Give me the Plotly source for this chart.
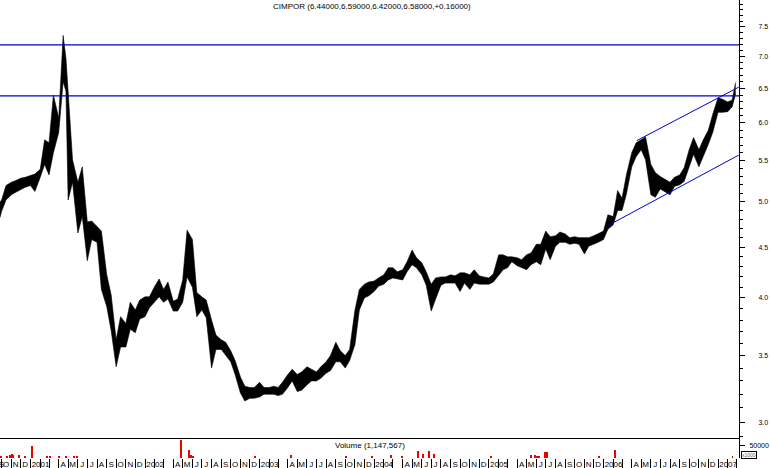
import math
import plotly.graph_objects as go

# ---------------- data ----------------
title_text = "CIMPOR (6.44000,6.59000,6.42000,6.58000,+0.16000)"
volume_text = "Volume (1,147,567)"

def semi(year):
    return [f"{year}-{m:02d}-{d:02d}" for m in range(1, 13) for d in (1, 15)]

dates = (["2000-09-26", "2000-10-01", "2000-10-15", "2000-11-01", "2000-11-15", "2000-12-01", "2000-12-15"]
         + ["2001-01-01", "2001-01-15", "2001-02-01", "2001-02-15", "2001-03-01", "2001-03-15",
            "2001-04-01", "2001-04-15", "2001-04-24", "2001-05-01", "2001-05-15", "2001-06-01", "2001-06-15",
            "2001-07-01", "2001-07-15", "2001-08-01", "2001-08-15", "2001-09-01", "2001-09-15",
            "2001-10-01", "2001-10-15", "2001-11-01", "2001-11-15", "2001-12-01", "2001-12-15"]
         + semi(2002) + semi(2003) + semi(2004) + semi(2005) + semi(2006)
         + ["2007-01-01", "2007-01-15", "2007-02-01", "2007-02-15", "2007-02-26"])

high = [5.00, 5.02, 5.19, 5.23, 5.25, 5.28, 5.29,
        # 2001
        5.31, 5.33, 5.39, 5.77, 5.73, 6.40, 6.07, 7.35, 6.97, 6.45, 5.51, 5.23, 5.42,
        4.77, 4.78, 4.72, 4.67, 4.22, 4.03, 3.63, 3.83, 3.77, 3.96, 3.89, 3.98,
        # 2002
        4.01, 4.01, 4.11, 4.18, 4.08, 4.15, 3.97, 3.99, 4.17, 4.68, 4.58, 4.05,
        4.01, 3.98, 3.80, 3.67, 3.63, 3.61, 3.54, 3.46, 3.33, 3.26, 3.25, 3.25,
        # 2003
        3.29, 3.25, 3.25, 3.26, 3.25, 3.29, 3.35, 3.39, 3.35, 3.37, 3.41, 3.39,
        3.37, 3.41, 3.45, 3.50, 3.61, 3.54, 3.50, 3.55, 3.89, 4.08, 4.13, 4.15,
        # 2004
        4.16, 4.19, 4.22, 4.29, 4.29, 4.25, 4.27, 4.35, 4.47, 4.39, 4.34, 4.25,
        4.13, 4.19, 4.20, 4.20, 4.22, 4.21, 4.24, 4.24, 4.22, 4.27, 4.21, 4.20,
        # 2005
        4.19, 4.23, 4.42, 4.42, 4.40, 4.40, 4.39, 4.37, 4.42, 4.44, 4.53, 4.53,
        4.67, 4.61, 4.62, 4.66, 4.64, 4.60, 4.61, 4.60, 4.60, 4.60, 4.62, 4.64,
        # 2006
        4.67, 4.85, 4.83, 5.13, 5.04, 5.32, 5.60, 5.73, 5.77, 5.81, 5.45, 5.35,
        5.30, 5.27, 5.23, 5.29, 5.32, 5.41, 5.64, 5.80, 5.64, 5.77, 5.90, 6.12,
        # 2007
        6.36, 6.34, 6.30, 6.33, 6.59]

low = [4.82, 4.89, 5.02, 5.08, 5.11, 5.14, 5.17,
       # 2001
       5.19, 5.12, 5.29, 5.45, 5.32, 5.60, 5.87, 6.60, 6.46, 5.02, 5.23, 4.65, 4.83,
       4.36, 4.58, 4.55, 4.08, 3.92, 3.71, 3.41, 3.57, 3.57, 3.72, 3.69, 3.81,
       # 2002
       3.83, 3.91, 3.97, 4.01, 3.96, 3.99, 3.88, 3.88, 3.96, 4.20, 4.10, 3.83,
       3.89, 3.82, 3.40, 3.55, 3.55, 3.50, 3.45, 3.35, 3.21, 3.15, 3.17, 3.17,
       # 2003
       3.18, 3.20, 3.20, 3.20, 3.19, 3.20, 3.25, 3.30, 3.22, 3.23, 3.27, 3.30,
       3.30, 3.32, 3.36, 3.38, 3.45, 3.45, 3.40, 3.46, 3.59, 3.89, 4.00, 4.02,
       # 2004
       4.06, 4.11, 4.13, 4.17, 4.19, 4.18, 4.17, 4.25, 4.32, 4.29, 4.22, 4.12,
       3.88, 3.99, 4.12, 4.14, 4.14, 4.14, 4.06, 4.14, 4.08, 4.14, 4.13, 4.13,
       # 2005
       4.13, 4.15, 4.22, 4.27, 4.29, 4.35, 4.31, 4.29, 4.27, 4.32, 4.35, 4.32,
       4.48, 4.37, 4.51, 4.55, 4.55, 4.53, 4.54, 4.53, 4.43, 4.51, 4.53, 4.55,
       # 2006
       4.58, 4.69, 4.74, 4.90, 4.90, 5.09, 5.42, 5.55, 5.64, 5.51, 5.08, 5.05,
       5.15, 5.12, 5.08, 5.18, 5.20, 5.24, 5.41, 5.58, 5.42, 5.55, 5.71, 5.87,
       # 2007
       6.15, 6.15, 6.16, 6.23, 6.42]

vol_dates = ["2000-09-29", "2000-10-18", "2000-10-28", "2000-11-03", "2000-11-06", "2000-11-24",
             "2000-12-14", "2001-01-05", "2001-02-23", "2001-03-05", "2001-04-02", "2001-04-24",
             "2001-05-21", "2001-05-29", "2002-04-26", "2002-05-21", "2002-05-27", "2002-06-03",
             "2002-12-17", "2003-04-11", "2003-10-03", "2003-12-24", "2004-02-24", "2004-03-30",
             "2004-05-20", "2004-06-04", "2004-06-24", "2004-07-09", "2005-01-07", "2005-05-16",
             "2005-05-27", "2005-06-03", "2005-06-09", "2005-06-29", "2005-07-05", "2005-12-19",
             "2006-02-06", "2007-02-16"]
vol_values = [3200, 6000, 8800, 15000, 8800, 11000,
              3000, 49000, 3000, 3000, 3000, 5000,
              3000, 3000, 71000, 33000, 8800, 3000,
              3000, 11000, 3000, 3000, 8800, 3000,
              25000, 13000, 25000, 13000, 3000, 11000,
              8800, 6000, 3000, 22000, 22000, 5000,
              33000, 5000]

hline_levels = [7.19, 6.39]
lower_channel_dates = ["2006-01-15", "2007-03-08"]
lower_channel_values = [4.73, 5.57]
upper_channel_dates = ["2006-04-17", "2007-03-08"]
upper_channel_values = [5.76, 6.52]

price_tick_values = [3.0, 3.5, 4.0, 4.5, 5.0, 5.5, 6.0, 6.5, 7.0, 7.5]
price_tick_labels = ["3.0", "3.5", "4.0", "4.5", "5.0", "5.5", "6.0", "6.5", "7.0", "7.5"]
month_letters = ["J", "F", "M", "A", "M", "J", "J", "A", "S", "O", "N", "D"]

X0 = "2000-09-25 20:00"
X1 = "2007-03-08 19:00"
BLUE = "#0000cc"

# ---------------- axis tick construction ----------------
label_pos, label_txt, month_starts = [], [], []
for y in range(2000, 2008):
    for m in range(1, 13):
        if (y, m) < (2000, 9) or (y, m) > (2007, 3):
            continue
        if (y, m) >= (2000, 10):
            month_starts.append(f"{y}-{m:02d}-01")
        if (y, m) > (2007, 2):
            continue
        if m == 1:
            label_pos.append(f"{y}-02-02")
            label_txt.append(str(y))
        elif m in (2, 3):
            continue
        elif (y, m) == (2000, 9):
            label_pos.append("2000-09-30")
            label_txt.append("S")
        else:
            label_pos.append(f"{y}-{m:02d}-15")
            label_txt.append(month_letters[m - 1])

price_minor = [round(2.9 + 0.1 * i, 1) for i in range(51)]

# ---------------- figure ----------------
fig = go.Figure()
fig.add_trace(go.Scatter(x=dates, y=high, mode="lines", line=dict(color="black", width=0.6),
                         xaxis="x", yaxis="y", hoverinfo="skip"))
fig.add_trace(go.Scatter(x=dates, y=low, mode="lines", line=dict(color="black", width=0.6),
                         fill="tonexty", fillcolor="black", xaxis="x", yaxis="y", hoverinfo="skip"))
for lvl in hline_levels:
    fig.add_trace(go.Scatter(x=[X0, X1], y=[lvl, lvl], mode="lines",
                             line=dict(color=BLUE, width=1.2), xaxis="x", yaxis="y"))
fig.add_trace(go.Scatter(x=lower_channel_dates, y=lower_channel_values, mode="lines",
                         line=dict(color=BLUE, width=1), xaxis="x", yaxis="y"))
fig.add_trace(go.Scatter(x=upper_channel_dates, y=upper_channel_values, mode="lines",
                         line=dict(color=BLUE, width=1), xaxis="x", yaxis="y"))
fig.add_trace(go.Bar(x=vol_dates, y=vol_values, marker=dict(color="#ee0000", line=dict(width=0)),
                     width=3 * 86400000, xaxis="x2", yaxis="y2"))

split = 0.0426
fig.update_layout(
    template="none",
    width=770, height=468,
    margin=dict(l=0, r=31, t=0, b=10, pad=0, autoexpand=False),
    paper_bgcolor="white", plot_bgcolor="white",
    showlegend=False, bargap=0,
    font=dict(family="Liberation Sans, Arial, sans-serif", color="black"),
    xaxis=dict(domain=[0, 1], anchor="y", type="date", range=[X0, X1], automargin=False,
               showticklabels=False, ticks="", showgrid=False, zeroline=False,
               showline=True, linecolor="black", linewidth=1),
    xaxis2=dict(domain=[0, 1], anchor="y2", type="date", range=[X0, X1], matches="x",
                automargin=False, ticklabeloverflow="allow",
                tickmode="array", tickvals=label_pos, ticktext=label_txt, tickangle=0,
                ticks="", showgrid=False, zeroline=False, showline=False,
                tickfont=dict(size=8, color="black"),
                minor=dict(tickmode="array", tickvals=month_starts, ticks="outside",
                           ticklen=10, tickwidth=1, tickcolor="black", showgrid=False)),
    yaxis=dict(domain=[split, 1], anchor="x", type="log", side="right", automargin=False,
               range=[math.log10(2.888), math.log10(7.979)],
               tickmode="array", tickvals=price_tick_values, ticktext=price_tick_labels,
               ticks="outside", ticklen=5, tickcolor="black", tickwidth=1,
               showline=True, linecolor="black", linewidth=1, showgrid=False, zeroline=False,
               tickfont=dict(size=7, color="black"), ticklabelstandoff=12,
               minor=dict(tickmode="array", tickvals=price_minor, ticks="outside",
                          ticklen=3, tickcolor="black", showgrid=False)),
    yaxis2=dict(domain=[0, split], anchor="x2", side="right", range=[0, 81000], automargin=False,
                tickmode="array", tickvals=[50000], ticktext=["50000"],
                ticks="outside", ticklen=5, tickcolor="black", tickwidth=1,
                showline=True, linecolor="black", linewidth=1, showgrid=False, zeroline=False,
                tickfont=dict(size=7, color="black"), ticklabelstandoff=3),
    annotations=[
        dict(text=title_text, x=372 / 739, y=(458 - 7) / 458, xref="paper", yref="paper",
             xanchor="center", yanchor="middle", showarrow=False, font=dict(size=8, color="black")),
        dict(text=volume_text, x=370 / 739, y=(458 - 445) / 458, xref="paper", yref="paper",
             xanchor="center", yanchor="middle", showarrow=False, font=dict(size=8, color="black")),
        dict(text="x1000", x=749 / 739, y=(458 - 455) / 458, xref="paper", yref="paper",
             xanchor="center", yanchor="middle", showarrow=False, font=dict(size=5, color="#666666"),
             bordercolor="black", borderwidth=1, borderpad=0, bgcolor="white"),
    ],
)

fig.write_html("out.html", config={"displayModeBar": False},
               post_script="document.body.style.margin='0';")
